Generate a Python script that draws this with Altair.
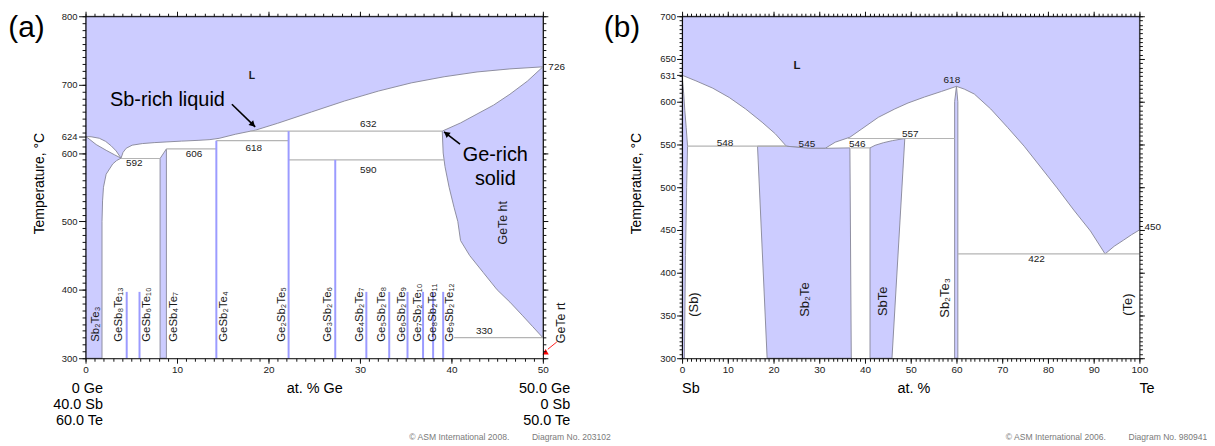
import altair as alt
import pandas as pd

FONT = "Liberation Sans"
FILL = "#ccccff"
EDGE = "#8e8ea0"
INV = "#b4b4b4"
CMP = "#9b9bff"
INK = "#1a1a1a"

# ================= Panel (a): GeTe - Sb2Te3 section (x = at.% Ge, T in °C) =================
A_LENS_TOP_X = [0, 0.6, 1.5, 2.2, 2.8, 3.35, 3.88]
A_LENS_TOP_T = [624, 623.8, 621.6, 617, 610.5, 603, 592.5]
A_LENS_BOT_X = [0, 0.25, 1.16, 2.25, 3.15, 3.88]
A_LENS_BOT_T = [624, 622, 612.4, 604, 597.5, 592.5]
A_LIQ_X = [3.88, 4.1, 4.45, 5.1, 6.2, 7.5, 8.8, 10.5, 12.4, 13.6, 14.6, 16.4, 18.6,
           21.0, 24.7, 28.3, 32.0, 35.6, 39.2, 42.8, 46.4, 50.0]
A_LIQ_T = [592.5, 601, 607, 611.5, 613.8, 615.2, 616.2, 617.4, 618.6, 619.6, 621.5, 627.5, 633.5,
           643.5, 660, 676, 690.5, 702.5, 711.5, 718.5, 723, 726]
A_SB2TE3_SOLVUS_X = [3.88, 3.4, 2.97, 2.25, 1.96, 1.86, 1.8, 1.8]
A_SB2TE3_SOLVUS_T = [592.5, 589, 584, 569, 550, 530, 500, 300]
A_GETE_SOLIDUS_X = [50.0, 48.3, 46.4, 44.6, 42.8, 41.0, 39.0]
A_GETE_SOLIDUS_T = [726, 705, 686, 670, 657, 644, 632]
A_GETE_SOLVUS_X = [39.0, 39.1, 39.3, 39.75, 40.3, 40.7, 41.0, 42.0, 43.5, 45.0, 46.4, 47.8, 48.9, 50.0]
A_GETE_SOLVUS_T = [632, 600, 580, 550, 520, 500, 472, 450, 425, 400, 382, 362, 346, 330]
A_GESB4TE7_X = [8.15, 8.15, 8.84, 8.84, 8.15]
A_GESB4TE7_T = [300, 592, 606, 300, 300]

A_INV_T = [592, 606, 618, 632, 590, 330]
A_INV_X1 = [3.88, 8.84, 14.3, 18.0, 22.2, 40.3]
A_INV_X2 = [8.15, 14.3, 22.2, 39.0, 39.2, 50.0]
A_TLBL_TEXT = ["592", "606", "618", "632", "590", "330"]
A_TLBL_X = [5.33, 11.85, 18.4, 30.9, 30.9, 43.6]
A_TLBL_T = [584.7, 598.4, 608, 643, 575, 339.8]

A_CMP_X = [4.5, 5.9, 14.3, 22.2, 27.3, 30.7, 33.2, 35.2, 36.9, 38.0, 39.1]
A_CMP_TOP = [397, 397, 618, 632, 590, 397, 397, 397, 397, 397, 397]
A_PHASE_NAMES = ["Sb₂Te₃", "GeSb₈Te₁₃", "GeSb₆Te₁₀", "GeSb₄Te₇", "GeSb₂Te₄", "Ge₂Sb₂Te₅",
                 "Ge₃Sb₂Te₆", "Ge₄Sb₂Te₇", "Ge₅Sb₂Te₈", "Ge₆Sb₂Te₉", "Ge₇Sb₂Te₁₀",
                 "Ge₈Sb₂Te₁₁", "Ge₉Sb₂Te₁₂"]
A_PHASE_X = [1.16, 3.7, 6.7, 9.64, 15.1, 21.45, 26.56, 29.96, 32.4, 34.6, 36.3, 38.0, 39.8]

A_NOTE_TEXT = ["Sb-rich liquid", "Ge-rich", "solid"]
A_NOTE_X = [8.95, 44.8, 44.8]
A_NOTE_T = [677, 597.4, 562]
A_ARROW_X1 = [16.0, 40.94]
A_ARROW_T1 = [671.3, 613.0]
A_ARROW_X2 = [18.55, 39.2]
A_ARROW_T2 = [638.2, 631.0]
A_HEAD_X = [18.3, 39.45]
A_HEAD_T = [641.5, 628.5]
A_HEAD_ANGLE = [134, 308]

# ================= Panel (b): Sb - Te (x = at.% Te, T in °C) =================
B_LIQ_LEFT_X = [0, 3.04, 6.7, 10.3, 13.9, 17.5, 20.4, 22.8]
B_LIQ_LEFT_T = [631, 624.4, 615.9, 605, 591.5, 576, 562.4, 548]
B_SB2TE_TOP_X = [22.8, 27.7, 31.3]
B_SB2TE_TOP_T = [548, 545.5, 545.5]
B_LIQ_MID_X = [31.3, 33.5, 36.7, 39.3, 42.9, 46.5, 49.4, 53.0, 56.7, 60.0]
B_LIQ_MID_T = [545.5, 552.7, 558.5, 568.2, 581.7, 591.5, 598.5, 605.5, 612, 618]
B_LIQ_RIGHT_X = [60.0, 61.7, 63.9, 67.5, 71.15, 74.8, 78.4, 82.0, 85.65, 89.3, 92.5]
B_LIQ_RIGHT_T = [618, 614.8, 609, 591.5, 570.1, 548, 523.6, 499.2, 473.3, 448.8, 422]
B_LIQ_TE_X = [92.5, 94.5, 96.5, 98.3, 100.0]
B_LIQ_TE_T = [422, 431, 438, 444.5, 450]
B_SB_X = [0, 0.35, 0.6, 0.9, 1.2, 1.0, 0.75, 0.5, 0, 0]
B_SB_T = [631, 610, 590, 570, 548, 500, 420, 300, 300, 631]
B_SB2TE_X = [16.5, 22.8, 27.7, 31.3, 36.7, 37.0, 18.6, 16.5]
B_SB2TE_T = [548, 548, 545.5, 545.5, 546, 300, 300, 548]
B_SBTE_X = [41.1, 42.2, 44.0, 46.0, 48.7, 45.9, 41.1, 41.1]
B_SBTE_T = [546, 549, 552, 554.5, 557, 300, 300, 546]
B_SB2TE3_X = [59.6, 59.6, 60.0, 60.3, 60.3, 59.6]
B_SB2TE3_T = [300, 600, 618, 600, 300, 300]

B_INV_T = [548, 546, 557, 422]
B_INV_X1 = [1.2, 36.9, 36.3, 60.3]
B_INV_X2 = [22.8, 41.1, 59.6, 100.0]
B_TLBL_TEXT = ["548", "545", "546", "557", "618", "422"]
B_TLBL_X = [9.4, 27.3, 38.3, 49.9, 59.0, 77.5]
B_TLBL_T = [552, 550.8, 550.8, 562.4, 625.6, 416]
B_PHASE_NAMES = ["(Sb)", "Sb₂Te", "SbTe", "Sb₂Te₃", "(Te)"]
B_PHASE_X = [2.7, 26.96, 44.0, 57.4, 97.6]
B_PHASE_T = [362.8, 368.6, 366.6, 370.6, 362.8]

# axis tick values
A_X_MAJOR = [0, 10, 20, 30, 40, 50]
A_X_MINOR = list(range(0, 51))
A_Y_MAJOR = [300, 400, 500, 600, 700, 800]
A_Y_LABELLED = A_Y_MAJOR + [624]
A_Y_MINOR = list(range(300, 801, 10))
B_X_MAJOR = list(range(0, 101, 10))
B_X_MINOR = list(range(0, 101))
B_Y_MAJOR = list(range(300, 701, 50))
B_Y_LABELLED = B_Y_MAJOR + [631]
B_Y_MINOR = list(range(300, 701, 5))

# ---------------- helpers ----------------
SAX = alt.Scale(domain=[0, 50], range=[0, 460], nice=False, zero=False)
SAY = alt.Scale(domain=[300, 800], range=[344, 0], nice=False, zero=False)
SBX = alt.Scale(domain=[0, 100], range=[600, 1060], nice=False, zero=False)
SBY = alt.Scale(domain=[300, 700], range=[344, 0], nice=False, zero=False)


def poly_df(polys):
    rows = []
    for name, xs, ts in polys:
        for k, (x, t) in enumerate(zip(xs, ts)):
            rows.append({"poly": name, "i": k, "x": x, "T": t})
    return pd.DataFrame(rows)


def make_axis(orient, values, size, labels=False, domain=True, offset=0, label_size=10, pad=2):
    props = dict(orient=orient, values=values, grid=False, title=None, domain=domain,
                 domainColor="#000000", domainWidth=1, tickColor="#111111", tickWidth=1,
                 tickSize=size, zindex=3, offset=offset, labels=labels)
    if labels:
        props.update(labelFontSize=label_size, labelColor=INK, labelPadding=pad,
                     labelFlush=False, labelOverlap=False, labelFont=FONT)
    return alt.Axis(**props)


def tx(size, **kw):
    d = dict(font=FONT, color=INK, fontSize=size)
    d.update(kw)
    return d


def panel(sx, sy, polys, inv, tl, phases, axes, phase_style, extra):
    (ab, al), (at, ar), (abm, alm), (atm, arm) = axes
    X = lambda f, axis=None: alt.X(f"{f}:Q", scale=sx, axis=axis)
    Y = lambda f, axis=None: alt.Y(f"{f}:Q", scale=sy, axis=axis)
    layers = [
        alt.Chart(poly_df(polys)).mark_line(fill=FILL, stroke=EDGE, strokeWidth=1).encode(
            x=X("x", ab), y=Y("T", al), detail="poly:N", order="i:Q"),
        alt.Chart(pd.DataFrame(inv)).mark_rule(color=INV, strokeWidth=1.2).encode(
            x=X("x1", at), x2="x2:Q", y=Y("T", ar)),
    ]
    layers += extra(X, Y)
    layers += [
        alt.Chart(pd.DataFrame(tl)).mark_text(**tx(10)).encode(
            x=X("x", abm), y=Y("T", alm), text="t:N"),
        alt.Chart(pd.DataFrame(phases)).mark_text(**phase_style).encode(
            x=X("x", atm), y=Y("T", arm), text="t:N"),
    ]
    return alt.layer(*layers).resolve_axis(x="independent", y="independent")


# ---------------- panel (a) ----------------
A_POLYS = [
    ("L", [0] + A_LENS_TOP_X + A_LIQ_X[1:] + [50, 0], [800] + A_LENS_TOP_T + A_LIQ_T[1:] + [800, 800]),
    ("Sb2Te3", A_LENS_BOT_X + A_SB2TE3_SOLVUS_X[1:] + [0, 0], A_LENS_BOT_T + A_SB2TE3_SOLVUS_T[1:] + [300, 624]),
    ("GeTe", A_GETE_SOLIDUS_X + A_GETE_SOLVUS_X[1:] + [50], A_GETE_SOLIDUS_T + A_GETE_SOLVUS_T[1:] + [726]),
    ("GeSb4Te7", A_GESB4TE7_X, A_GESB4TE7_T),
]


def extra_a(X, Y):
    cmp_df = pd.DataFrame({"x": A_CMP_X, "lo": [300] * len(A_CMP_X), "top": A_CMP_TOP})
    notes = pd.DataFrame({"x": A_NOTE_X, "T": A_NOTE_T, "t": A_NOTE_TEXT})
    arrows = pd.DataFrame({"x1": A_ARROW_X1, "T1": A_ARROW_T1, "x2": A_ARROW_X2, "T2": A_ARROW_T2})
    heads = pd.DataFrame({"x": A_HEAD_X, "T": A_HEAD_T, "a": A_HEAD_ANGLE})
    return [
        alt.Chart(cmp_df).mark_rule(color=CMP, strokeWidth=2).encode(x=X("x"), y=Y("lo"), y2="top:Q"),
        alt.Chart(notes).mark_text(**tx(20, color="#000")).encode(x=X("x"), y=Y("T"), text="t:N"),
        alt.Chart(arrows).mark_rule(color="#000", strokeWidth=1.6).encode(
            x=X("x1"), y=Y("T1"), x2="x2:Q", y2="T2:Q"),
        alt.Chart(heads).mark_point(shape="triangle-up", filled=True, color="#000", size=45, opacity=1).encode(
            x=X("x"), y=Y("T"), angle=alt.Angle("a:Q", scale=None)),
        alt.Chart(pd.DataFrame({"x": [18.2], "T": [712.5], "t": ["L"]})).mark_text(
            **tx(10.5, fontWeight="bold")).encode(x=X("x"), y=Y("T"), text="t:N"),
        alt.Chart(pd.DataFrame({"x": [45.6, 51.96], "T": [498, 351.7], "t": ["GeTe ht", "GeTe rt"]})).mark_text(
            **tx(12.5, angle=270)).encode(x=X("x"), y=Y("T"), text="t:N"),
        alt.Chart(pd.DataFrame({"x": [50.6], "T": [726], "t": ["726"]})).mark_text(
            **tx(10, align="left")).encode(x=X("x"), y=Y("T"), text="t:N"),
        alt.Chart(pd.DataFrame({"x1": [51.52], "T1": [323.7], "x2": [50.54], "T2": [313.1]})).mark_rule(
            color="#ff2020", strokeWidth=1).encode(x=X("x1"), y=Y("T1"), x2="x2:Q", y2="T2:Q"),
        alt.Chart(pd.DataFrame({"x": [50.3], "T": [309.5]})).mark_point(
            shape="triangle-up", filled=True, color="#ff0000", size=40, opacity=1).encode(x=X("x"), y=Y("T")),
        alt.Chart(pd.DataFrame({"x": [0], "t": ["0 Ge\n40.0 Sb\n60.0 Te"]})).mark_text(
            **tx(14.5, color="#000", align="right", baseline="alphabetic", dx=17.5, lineBreak="\n", lineHeight=16)
        ).encode(x=X("x"), y=alt.value(379), text="t:N"),
        alt.Chart(pd.DataFrame({"x": [50], "t": ["50.0 Ge\n0 Sb\n50.0 Te"]})).mark_text(
            **tx(14.5, color="#000", align="right", baseline="alphabetic", dx=27.5, lineBreak="\n", lineHeight=16)
        ).encode(x=X("x"), y=alt.value(379), text="t:N"),
        alt.Chart(pd.DataFrame({"x": [25.05], "t": ["at. % Ge"]})).mark_text(
            **tx(14.5, color="#000", baseline="alphabetic")).encode(x=X("x"), y=alt.value(379), text="t:N"),
    ]


panel_a = panel(
    SAX, SAY, A_POLYS,
    {"x1": A_INV_X1, "x2": A_INV_X2, "T": A_INV_T},
    {"x": A_TLBL_X, "T": A_TLBL_T, "t": A_TLBL_TEXT},
    {"x": A_PHASE_X, "T": [324] * len(A_PHASE_X), "t": A_PHASE_NAMES},
    [
        (make_axis("bottom", A_X_MAJOR, 5, labels=True, pad=1.5),
         make_axis("left", A_Y_LABELLED, 7, labels=True, label_size=9.5, pad=1.5)),
        (make_axis("top", A_X_MAJOR, 5),
         make_axis("right", A_Y_MAJOR, 5, offset=-600)),
        (make_axis("bottom", A_X_MINOR, 3, domain=False),
         make_axis("left", A_Y_MINOR, 3.5, domain=False)),
        (make_axis("top", A_X_MINOR, 3, domain=False),
         make_axis("right", A_Y_MINOR, 3, domain=False, offset=-600)),
    ],
    tx(11.5, angle=270, align="left", baseline="middle"),
    extra_a,
)

# ---------------- panel (b) ----------------
B_POLYS = [
    ("L", [0] + B_LIQ_LEFT_X + B_SB2TE_TOP_X[1:] + B_LIQ_MID_X[1:] + B_LIQ_RIGHT_X[1:] + B_LIQ_TE_X[1:] + [100, 0],
     [700] + B_LIQ_LEFT_T + B_SB2TE_TOP_T[1:] + B_LIQ_MID_T[1:] + B_LIQ_RIGHT_T[1:] + B_LIQ_TE_T[1:] + [700, 700]),
    ("Sb", B_SB_X, B_SB_T),
    ("Sb2Te", B_SB2TE_X, B_SB2TE_T),
    ("SbTe", B_SBTE_X, B_SBTE_T),
    ("Sb2Te3", B_SB2TE3_X, B_SB2TE3_T),
]


def extra_b(X, Y):
    return [
        alt.Chart(pd.DataFrame({"x": [25.15], "T": [641.9], "t": ["L"]})).mark_text(
            **tx(11.5, fontWeight="bold")).encode(x=X("x"), y=Y("T"), text="t:N"),
        alt.Chart(pd.DataFrame({"x": [101.1], "T": [453.8], "t": ["450"]})).mark_text(
            **tx(10, align="left")).encode(x=X("x"), y=Y("T"), text="t:N"),
        alt.Chart(pd.DataFrame({"x": [0, 100], "t": ["Sb", "Te"]})).mark_text(
            **tx(14.5, color="#000", align="left", baseline="alphabetic")).encode(
            x=X("x"), y=alt.value(379), text="t:N"),
        alt.Chart(pd.DataFrame({"x": [50.7], "t": ["at. %"]})).mark_text(
            **tx(14.5, color="#000", baseline="alphabetic")).encode(x=X("x"), y=alt.value(379), text="t:N"),
    ]


panel_b = panel(
    SBX, SBY, B_POLYS,
    {"x1": B_INV_X1, "x2": B_INV_X2, "T": B_INV_T},
    {"x": B_TLBL_X, "T": B_TLBL_T, "t": B_TLBL_TEXT},
    {"x": B_PHASE_X, "T": B_PHASE_T, "t": B_PHASE_NAMES},
    [
        (make_axis("bottom", B_X_MAJOR, 5, labels=True, pad=1.5),
         make_axis("left", B_Y_LABELLED, 5.5, labels=True, label_size=9.5, pad=1, offset=-600)),
        (make_axis("top", B_X_MAJOR, 5),
         make_axis("right", B_Y_MAJOR, 5)),
        (make_axis("bottom", B_X_MINOR, 3, domain=False),
         make_axis("left", B_Y_MINOR, 3, domain=False, offset=-600)),
        (make_axis("top", B_X_MINOR, 3, domain=False),
         make_axis("right", B_Y_MINOR, 3, domain=False)),
    ],
    tx(13, angle=270, align="center", baseline="middle"),
    extra_b,
)

# ---------------- page-level texts (outside both plots) ----------------
PX = lambda: alt.X("px:Q", scale=None, axis=None)
PY = lambda: alt.Y("py:Q", scale=None, axis=None)
letters = alt.Chart(pd.DataFrame({"px": [-77.7, 521.3], "py": [20.4, 20.4], "t": ["(a)", "(b)"]})).mark_text(
    **tx(30, color="#000", align="left", baseline="alphabetic")).encode(x=PX(), y=PY(), text="t:N")
ytitles = alt.Chart(pd.DataFrame({"px": [-45.5, 554.8], "py": [168.4, 168.4],
                                  "t": ["Temperature, °C", "Temperature, °C"]})).mark_text(
    **tx(14, color="#000", angle=270, baseline="middle")).encode(x=PX(), y=PY(), text="t:N")
credits = alt.Chart(pd.DataFrame({
    "px": [325.7, 449.0, 925.7, 1049.0], "py": [426, 426, 426, 426],
    "t": ["© ASM International 2008.", "Diagram No. 203102",
          "© ASM International 2006.", "Diagram No. 980941"]})).mark_text(
    **tx(8.6, color="#7a7a7a", align="left", baseline="alphabetic")).encode(x=PX(), y=PY(), text="t:N")

chart = alt.layer(panel_a, panel_b, letters, ytitles, credits).resolve_scale(
    x="independent", y="independent").resolve_axis(x="independent", y="independent").properties(
    width=1060, height=344,
    padding={"left": 78, "top": 7, "right": 68, "bottom": 84},
    autosize=alt.AutoSizeParams(type="none"),
).configure_view(stroke=None)

chart.save("out.html", embed_options={"renderer": "svg", "actions": False})
